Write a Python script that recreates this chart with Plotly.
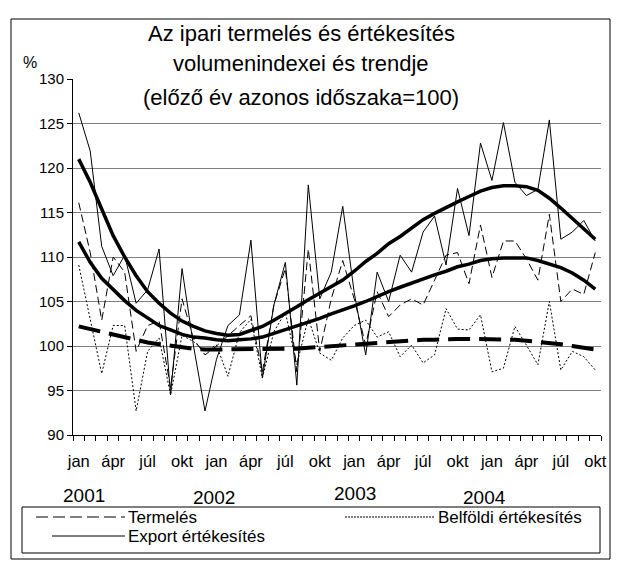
import plotly.graph_objects as go

# ---- data ----
n_points = 46  # jan 2001 - okt 2004, monthly
month_index = list(range(n_points))
quarter_labels = ["jan", "ápr", "júl", "okt"]
year_labels = ["2001", "2002", "2003", "2004"]

termeles = [116.1, 110.5, 102.9, 110.0, 108.3, 99.4, 102.3, 102.8, 95.3, 105.3, 100.8, 99.0,
            100.0, 101.2, 102.3, 103.4, 97.1, 104.6, 108.7, 97.1, 110.9, 99.4, 105.3, 109.6,
            105.3, 100.1, 106.1, 103.3, 104.6, 105.3, 104.6, 107.4, 110.2, 110.5, 107.0, 113.6,
            107.7, 111.8, 111.8, 109.8, 107.4, 114.8, 105.0, 106.4, 105.8, 110.5]
belfoldi = [109.1, 103.0, 96.9, 102.3, 102.3, 92.7, 99.4, 100.9, 94.5, 101.2, 100.5, 99.4,
            100.1, 96.6, 101.5, 103.0, 96.4, 101.6, 103.8, 97.9, 103.1, 99.2, 98.4, 100.9,
            102.3, 102.9, 101.0, 101.6, 98.8, 100.1, 98.1, 99.0, 104.2, 101.9, 101.8, 103.5,
            97.1, 97.5, 102.2, 100.1, 97.9, 105.0, 97.3, 99.4, 98.8, 97.3]
export = [126.2, 121.9, 111.2, 107.9, 110.2, 104.8, 106.3, 110.9, 94.5, 108.7, 100.0, 92.7,
          98.5, 102.3, 103.5, 111.9, 96.4, 104.6, 109.4, 95.6, 118.1, 105.3, 108.3, 115.7,
          106.0, 99.0, 108.3, 105.0, 110.2, 108.3, 112.8, 114.6, 109.1, 117.7, 112.4, 122.8,
          118.6, 125.1, 118.4, 116.9, 117.6, 125.4, 112.0, 112.8, 114.1, 111.8]
export_trend = [121.0, 118.4, 115.4, 112.4, 110.0, 107.9, 106.1, 104.8, 103.7, 102.8, 102.2, 101.7,
                101.4, 101.2, 101.3, 101.7, 102.2, 102.9, 103.6, 104.4, 105.2, 105.9, 106.7, 107.4,
                108.4, 109.5, 110.4, 111.5, 112.3, 113.2, 114.2, 114.9, 115.6, 116.2, 116.8, 117.4,
                117.8, 118.0, 118.0, 117.9, 117.5, 116.6, 115.5, 114.3, 113.1, 112.0]
termeles_trend = [111.7, 109.4, 107.6, 106.3, 105.1, 104.0, 103.1, 102.3, 101.8, 101.3, 101.0, 100.9,
                  100.7, 100.6, 100.7, 100.8, 101.0, 101.4, 101.8, 102.2, 102.6, 103.1, 103.6, 104.0,
                  104.5, 105.0, 105.6, 106.1, 106.6, 107.1, 107.6, 108.0, 108.4, 108.9, 109.2, 109.6,
                  109.8, 109.9, 109.9, 109.9, 109.6, 109.2, 108.8, 108.2, 107.4, 106.4]
belfoldi_trend = [102.2, 101.9, 101.6, 101.2, 100.9, 100.6, 100.4, 100.2, 100.0, 99.8, 99.7, 99.6,
                  99.6, 99.6, 99.6, 99.6, 99.6, 99.6, 99.7, 99.7, 99.8, 99.9, 100.0, 100.1,
                  100.1, 100.2, 100.3, 100.4, 100.5, 100.6, 100.7, 100.7, 100.8, 100.8, 100.8, 100.8,
                  100.8, 100.8, 100.7, 100.6, 100.5, 100.4, 100.2, 100.0, 99.8, 99.6]

legend_names = ["Termelés", "Belföldi értékesítés", "Export értékesítés"]
title_lines = ["Az ipari termelés és értékesítés", "volumenindexei és trendje",
               "(előző év azonos időszaka=100)"]

FONT = "Liberation Sans, Arial, sans-serif"
W, H = 620, 561
L, R, T, B = 73, 19, 79, 126
PW, PH = W - L - R, H - T - B


def px(x):
    return (x - L) / PW


def py(y):
    return (T + PH - y) / PH


fig = go.Figure()
# raw series
fig.add_trace(go.Scatter(x=month_index, y=belfoldi, mode="lines", name=legend_names[1],
                         line=dict(color="black", width=1, dash="2px,2px")))
fig.add_trace(go.Scatter(x=month_index, y=termeles, mode="lines", name=legend_names[0],
                         line=dict(color="black", width=1, dash="8px,4px")))
fig.add_trace(go.Scatter(x=month_index, y=export, mode="lines", name=legend_names[2],
                         line=dict(color="black", width=1)))
# trends
fig.add_trace(go.Scatter(x=month_index, y=belfoldi_trend, mode="lines", showlegend=False,
                         line=dict(color="black", width=4, dash="22px,9px")))
fig.add_trace(go.Scatter(x=month_index, y=termeles_trend, mode="lines", showlegend=False,
                         line=dict(color="black", width=3.5)))
fig.add_trace(go.Scatter(x=month_index, y=export_trend, mode="lines", showlegend=False,
                         line=dict(color="black", width=3.5)))

tickvals = list(range(0, n_points, 3))
ticktext = [quarter_labels[(i // 3) % 4] for i in tickvals]

fig.update_layout(
    width=W, height=H, margin=dict(l=L, r=R, t=T, b=B, pad=0),
    paper_bgcolor="white", plot_bgcolor="white", showlegend=False,
    font=dict(family=FONT, color="black", size=14),
    xaxis=dict(range=[-0.5, n_points - 0.5], tickmode="array", tickvals=tickvals, ticktext=ticktext,
               ticks="", showgrid=False, zeroline=False, showline=True, linecolor="black", linewidth=1,
               tickfont=dict(size=16.5, family=FONT), ticklabelstandoff=11,
               minor=dict(tick0=-0.5, dtick=1, ticks="outside", ticklen=5, tickcolor="black",
                          showgrid=False)),
    yaxis=dict(range=[90, 130], tick0=90, dtick=5, ticks="outside", ticklen=5, tickcolor="black",
               showgrid=True, gridcolor="#808080", gridwidth=1, zeroline=False, showline=True,
               linecolor="black", linewidth=1, tickfont=dict(size=15, family=FONT)),
)

annotations = []
# title lines
for txt, yy in zip(title_lines, [33, 64, 97]):
    annotations.append(dict(text=txt, x=px(301), y=py(yy), xref="paper", yref="paper",
                            showarrow=False, xanchor="center", yanchor="middle",
                            font=dict(size=22, family=FONT)))
annotations.append(dict(text="%", x=px(30), y=py(62), xref="paper", yref="paper", showarrow=False,
                        xanchor="center", yanchor="middle", font=dict(size=16, family=FONT)))
# year labels
for txt, xx, yy in zip(year_labels, [84, 214, 355, 484], [495, 497, 493, 497]):
    annotations.append(dict(text=txt, x=px(xx), y=py(yy), xref="paper", yref="paper",
                            showarrow=False, xanchor="center", yanchor="middle",
                            font=dict(size=19, family=FONT)))
# legend texts
for txt, xx, yy in [(legend_names[0], 126, 517), (legend_names[1], 436, 517), (legend_names[2], 126, 536)]:
    annotations.append(dict(text=txt, x=px(xx), y=py(yy), xref="paper", yref="paper",
                            showarrow=False, xanchor="left", yanchor="middle",
                            font=dict(size=17, family=FONT)))
fig.update_layout(annotations=annotations)

shapes = [
    # outer frame
    dict(type="rect", xref="paper", yref="paper", x0=px(11), x1=px(610), y0=py(559), y1=py(19),
         line=dict(color="black", width=1), fillcolor="rgba(0,0,0,0)", layer="above"),
    # legend box
    dict(type="rect", xref="paper", yref="paper", x0=px(22), x1=px(600), y0=py(553), y1=py(507),
         line=dict(color="black", width=1), fillcolor="white", layer="above"),
    # legend samples
    dict(type="line", xref="paper", yref="paper", x0=px(36), x1=px(125), y0=py(517), y1=py(517),
         line=dict(color="black", width=1, dash="12px,5px"), layer="above"),
    dict(type="line", xref="paper", yref="paper", x0=px(345), x1=px(435), y0=py(517), y1=py(517),
         line=dict(color="black", width=1, dash="2px,1px"), layer="above"),
    dict(type="line", xref="paper", yref="paper", x0=px(52), x1=px(125), y0=py(536), y1=py(536),
         line=dict(color="black", width=1), layer="above"),
]
fig.update_layout(shapes=shapes)

fig.write_html("out.html", config={"displayModeBar": False},
               post_script="document.body.style.margin='0';")
